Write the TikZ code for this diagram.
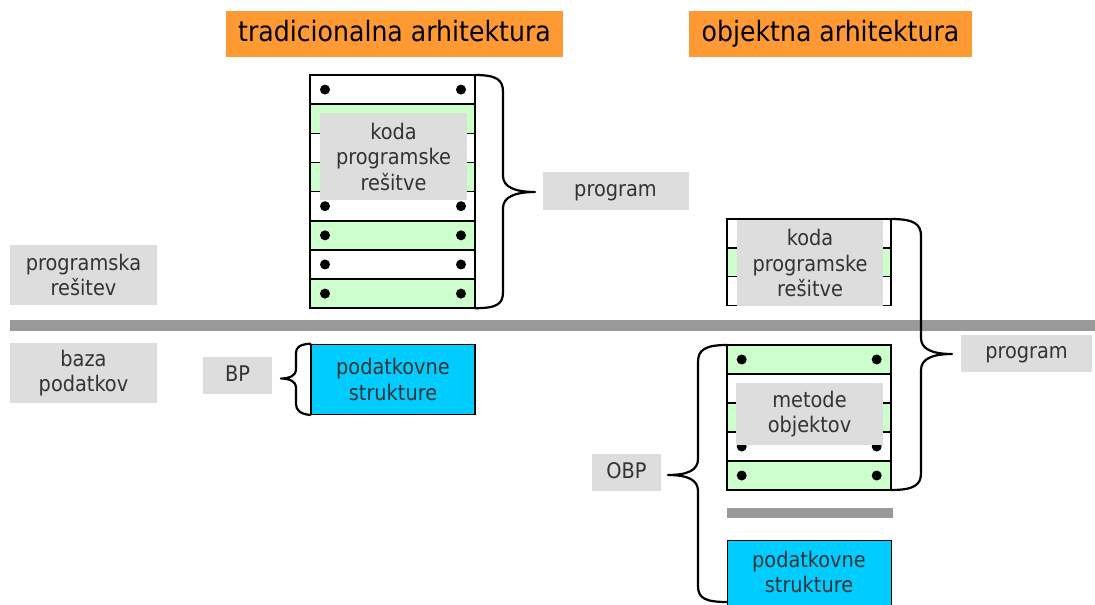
\documentclass[tikz,border=0pt]{standalone}
\usepackage{fontspec}
\setmainfont{DejaVu Sans Condensed}
\definecolor{titleorange}{HTML}{FF9933}
\definecolor{rowgreen}{HTML}{CCFFCC}
\definecolor{labelgray}{HTML}{DDDDDD}
\definecolor{bargray}{HTML}{999999}
\definecolor{datablue}{HTML}{00CCFF}
\definecolor{labeltext}{HTML}{333333}
\tikzset{
  titlebox/.style={fill=titleorange, inner sep=0pt, text=black,
    text height=21pt, text depth=6pt,
    font=\fontsize{28}{33}\selectfont},
  graylabel/.style={fill=labelgray, inner sep=0pt, align=center, text=labeltext,
    font=\fontsize{21.5}{25.5}\selectfont},
  oneline/.style={text height=16pt, text depth=5pt},
  datastruct/.style={draw=black, line width=1.4pt, fill=datablue, inner sep=0pt,
    align=center, text=labeltext, font=\fontsize{21.5}{25.5}\selectfont},
  stackline/.style={draw=black, line width=1.5pt},
  dot/.style={fill=black},
  brace/.style={draw=black, line width=2.2pt, line cap=round, line join=round},
  bar/.style={fill=bargray}
}
\begin{document}
\begin{tikzpicture}[x=1pt,y=-1pt]
\useasboundingbox (0,0) rectangle (1095,605);

% headings
\node[titlebox, minimum width=337pt, minimum height=46pt] (tradtitle) at (394.5,34) {tradicionalna arhitektura};
\node[titlebox, minimum width=283pt, minimum height=46pt] (objtitle) at (830.5,34) {objektna arhitektura};

% separator between application and database layers
\fill[bar] (10,320) rectangle (1095,330.5);

% layer names
\node[graylabel, minimum width=147pt, minimum height=60pt] (applayer) at (83.5,275) {programska\\rešitev};
\node[graylabel, minimum width=147pt, minimum height=60pt] (dblayer) at (83.5,373) {baza\\podatkov};

% traditional: program code stack
\foreach \i/\c in {0/white,1/rowgreen,2/white,3/rowgreen,4/white,5/rowgreen,6/white,7/rowgreen}{
  \draw[stackline, fill=\c] (310,{75+29.15*\i}) rectangle (475,{75+29.15*(\i+1)});
  \fill[dot] (325,{75+29.15*(\i+0.5)}) circle (5pt);
  \fill[dot] (461,{75+29.15*(\i+0.5)}) circle (5pt);
}
\coordinate (lstackNE) at (475,75);
\coordinate (lstackSE) at (475,308.2);
\node[graylabel, minimum width=147pt, minimum height=87pt] (tradcode) at (393.5,156.5) {koda\\programske\\rešitve};

% traditional: program brace
\draw[brace] (lstackNE) .. controls (497,75) and (503,80) .. (503,92) -- (503,176)
  .. controls (503,187) and (515,192) .. (535,192)
  .. controls (515,192) and (503,197) .. (503,208) -- (503,292)
  .. controls (503,304) and (497,308.2) .. (lstackSE);
\node[graylabel, oneline, minimum width=146pt, minimum height=38pt] (tradprog) at (615.5,191) {program};

% traditional: database
\node[datastruct, minimum width=164pt, minimum height=70pt] (tradds) at (393,379.3) {podatkovne\\strukture};
\node[graylabel, oneline, minimum width=69pt, minimum height=37pt] (bp) at (237.5,375.5) {BP};
\draw[brace] (tradds.north west) .. controls (300,344.5) and (296,347) .. (296,353) -- (296,370)
  .. controls (296,375) and (290,378.5) .. (281,378.5)
  .. controls (290,378.5) and (296,382) .. (296,387) -- (296,404)
  .. controls (296,410) and (300,414) .. (tradds.south west);

% object: application code stack
\foreach \i/\c in {0/white,1/rowgreen,2/white}{
  \draw[stackline, fill=\c] (727,{219+28.8*\i}) rectangle (891,{219+28.8*(\i+1)});
}
\coordinate (rstackNE) at (891,219);
\node[graylabel, minimum width=146pt, minimum height=86pt] (objcode) at (810,263) {koda\\programske\\rešitve};

% object: object methods stack
\foreach \i/\c in {0/rowgreen,1/white,2/rowgreen,3/white,4/rowgreen}{
  \draw[stackline, fill=\c] (727,{345+29*\i}) rectangle (891,{345+29*(\i+1)});
  \fill[dot] (741.7,{345+29*(\i+0.5)}) circle (5pt);
  \fill[dot] (876.7,{345+29*(\i+0.5)}) circle (5pt);
}
\coordinate (mstackNW) at (727,345);
\coordinate (mstackSE) at (891,490);
\node[graylabel, minimum width=147pt, minimum height=62pt] (methods) at (809.5,414) {metode\\objektov};

% object: program brace
\draw[brace] (rstackNE) .. controls (914,219) and (921,224) .. (921,236) -- (921,338)
  .. controls (921,349) and (932,354) .. (952,354)
  .. controls (932,354) and (921,359) .. (921,370) -- (921,473)
  .. controls (921,485) and (914,490) .. (mstackSE);
\node[graylabel, oneline, minimum width=131pt, minimum height=37pt] (objprog) at (1026.5,353) {program};

% object: database
\fill[bar] (727,508) rectangle (893,518);
\node[datastruct, minimum width=164pt, minimum height=72pt, anchor=north west] (objds) at (727,539.5) {};
\node[text=labeltext, font=\fontsize{21.5}{25.5}\selectfont, align=center, inner sep=0pt] (objdstext) at (809,572) {podatkovne\\strukture};
\coordinate (obpend) at (727,602);
\draw[brace] (mstackNW) .. controls (705,345) and (698,350) .. (698,362) -- (698,459)
  .. controls (698,470) and (688,475) .. (668,475)
  .. controls (688,475) and (698,480) .. (698,491) -- (698,586)
  .. controls (698,598) and (705,602) .. (obpend);
\node[graylabel, oneline, minimum width=69pt, minimum height=37pt] (obp) at (626.5,472.5) {OBP};
\end{tikzpicture}
\end{document}
